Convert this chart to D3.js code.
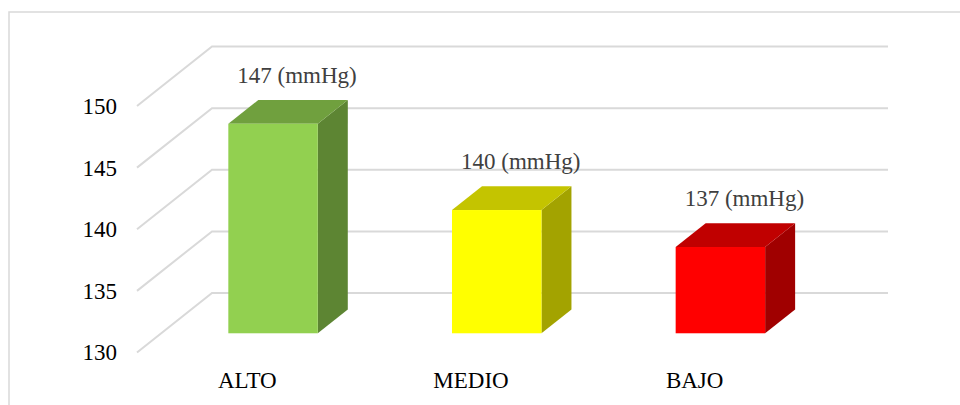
<!DOCTYPE html>
<html>
<head>
<meta charset="utf-8">
<script src="https://cdn.jsdelivr.net/npm/d3@7/dist/d3.min.js"></script>
<style>
  html, body { margin: 0; padding: 0; background: #ffffff; }
  svg { display: block; }
  svg text { font-family: "Liberation Serif", "Times New Roman", Times, "DejaVu Serif", serif !important; }
</style>
</head>
<body>
<svg id="chart" width="960" height="405"></svg>
<script>
// Systolic blood pressure by level
const categories = ["ALTO", "MEDIO", "BAJO"];
const values = [147, 140, 137];
const unitSuffix = " (mmHg)";
const tickValues = [130, 135, 140, 145, 150];
const frontColors = ["#92D050", "#FFFF00", "#FF0000"];
const topColors = ["#70A03E", "#C4C400", "#C00000"];
const sideColors = ["#5D8533", "#A3A300", "#A00000"];

const serif = "'Liberation Serif', 'Times New Roman', Times, 'DejaVu Serif', serif";
const svg = d3.select("#chart");

// Oblique 3D projection: the floor recedes by (depthX, depthY) from front to back wall
const depthX = 75, depthY = -59.5;
const barFront = 0.323, barBack = 0.723;

// Front-plane scales
const y = d3.scaleLinear().domain([130, 150]).range([352.5, 106]);
const x = d3.scaleBand().domain(categories).range([137, 808])
  .paddingInner(0.6).paddingOuter(0.3);
const gridRight = 888;

const proj = (px, v, d) => [px + depthX * d, y(v) + depthY * d];

// Chart area frame
svg.append("rect")
  .attr("x", 9).attr("y", 12)
  .attr("width", 1000).attr("height", 500)
  .attr("fill", "none")
  .attr("stroke", "#D9D9D9")
  .attr("stroke-width", 1.5);

// Gridlines: diagonal on the side wall, horizontal on the back wall
const grid = svg.append("g").attr("fill", "none")
  .attr("stroke", "#D9D9D9").attr("stroke-width", 2);
grid.selectAll("path").data(tickValues).join("path")
  .attr("d", v => {
    const a = proj(137, v, 0), b = proj(137, v, 1);
    return d3.line()([a, b, [gridRight, b[1]]]);
  });

// Value axis labels
const yAxis = svg.append("g")
  .attr("transform", "translate(137,0)")
  .call(d3.axisLeft(y).tickValues(tickValues).tickSize(0).tickPadding(20));
yAxis.attr("font-family", serif);
yAxis.select(".domain").remove();
yAxis.selectAll("text")
  .style("font-family", serif)
  .attr("font-size", 23)
  .attr("fill", "#000000");

// Category axis labels
const xAxis = svg.append("g")
  .attr("transform", `translate(-1.5,${y(130)})`)
  .call(d3.axisBottom(x).tickSize(0).tickPadding(19));
xAxis.attr("font-family", serif);
xAxis.select(".domain").remove();
xAxis.selectAll("text")
  .style("font-family", serif)
  .attr("font-size", 23)
  .attr("fill", "#000000");

// 3D bars
const bars = svg.append("g");
categories.forEach((c, i) => {
  const x0 = x(c), x1 = x(c) + x.bandwidth();
  const v = values[i];
  const g = bars.append("g");
  // right side face
  g.append("path")
    .attr("d", d3.line()([proj(x1, 130, barFront), proj(x1, 130, barBack),
                          proj(x1, v, barBack), proj(x1, v, barFront)]) + "Z")
    .attr("fill", sideColors[i]);
  // top face
  g.append("path")
    .attr("d", d3.line()([proj(x0, v, barFront), proj(x1, v, barFront),
                          proj(x1, v, barBack), proj(x0, v, barBack)]) + "Z")
    .attr("fill", topColors[i]);
  // front face
  const f0 = proj(x0, v, barFront), f1 = proj(x1, 130, barFront);
  g.append("rect")
    .attr("x", f0[0]).attr("y", f0[1])
    .attr("width", f1[0] - f0[0]).attr("height", f1[1] - f0[1])
    .attr("fill", frontColors[i]);
  // value label above the bar
  const top = proj((x0 + x1) / 2, v, barBack);
  g.append("text")
    .attr("x", top[0] - 6).attr("y", top[1] - 17)
    .attr("text-anchor", "middle")
    .attr("font-size", 23)
    .style("font-family", serif)
    .attr("fill", "#404040")
    .text(v + unitSuffix);
});
</script>
</body>
</html>
